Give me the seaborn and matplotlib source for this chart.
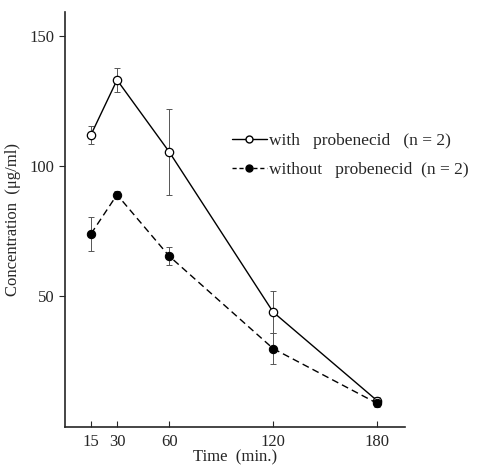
import matplotlib
matplotlib.use("Agg")
import matplotlib.pyplot as plt
import seaborn as sns
import pandas as pd
from matplotlib.lines import Line2D

time = [15, 30, 60, 120, 180]
with_prob = [112, 133, 105.5, 44, 10]
with_err = [3.5, 4.5, 16.5, 8, 1.5]
without_prob = [74, 89, 65.5, 30, 9]
without_err = [6.5, 1.5, 3.5, 6, 1.5]
xticks = [15, 30, 60, 120, 180]
yticks = [50, 100, 150]

sns.set_style("ticks")
plt.rcParams['font.family'] = ['Liberation Serif', 'DejaVu Serif']

df = pd.DataFrame({
    "time": time * 2,
    "conc": with_prob + without_prob,
    "group": ["with"] * len(time) + ["without"] * len(time),
})

fig = plt.figure(figsize=(4.85, 4.67), dpi=100)
ax = fig.add_axes([0.134, 0.086, 0.701, 0.888])

sns.lineplot(data=df[df.group == "with"], x="time", y="conc", ax=ax,
             color="black", lw=1.0, linestyle="-", marker="o", markersize=6,
             markerfacecolor="white", markeredgecolor="black", markeredgewidth=0.9, zorder=3)
sns.lineplot(data=df[df.group == "without"], x="time", y="conc", ax=ax,
             color="black", lw=1.0, linestyle=(0, (5, 3)), marker="o", markersize=6,
             markerfacecolor="black", markeredgecolor="black", zorder=3)

ax.errorbar(time, with_prob, yerr=with_err, fmt="none", ecolor="#555555",
            elinewidth=0.7, capsize=2, capthick=0.7, linestyle=":", zorder=2)
ax.errorbar(time, without_prob, yerr=without_err, fmt="none", ecolor="#555555",
            elinewidth=0.7, capsize=2, capthick=0.7, zorder=2)

ax.set_xlim(0, 196)
ax.set_ylim(0, 159)
ax.set_xticks(xticks)
ax.set_yticks(yticks)
ax.tick_params(axis="x", direction="in", length=4, labelsize=12, pad=5)
ax.tick_params(axis="y", direction="out", length=4, labelsize=12)
sns.despine(ax=ax)
ax.spines["left"].set_linewidth(1.2)
ax.spines["bottom"].set_linewidth(1.2)
ax.set_xlabel("Time  (min.)", fontsize=12, labelpad=0)
ax.set_ylabel("Concentration  (μg/ml)", fontsize=12, labelpad=6)

handles = [
    Line2D([], [], color="black", lw=1.0, marker="o", markersize=5,
           markerfacecolor="white", markeredgecolor="black"),
    Line2D([], [], color="black", lw=1.0, linestyle=(0, (3, 2)), marker="o", markersize=5,
           markerfacecolor="black"),
]
labels = ["with   probenecid   (n = 2)", "without   probenecid  (n = 2)"]
fig.legend(handles, labels, loc="upper left", bbox_to_anchor=(0.46, 0.735),
           frameon=False, fontsize=12.5, handlelength=2.0, handletextpad=0.15,
           labelspacing=0.75, borderpad=0)

fig.savefig("out.png", dpi=100)
